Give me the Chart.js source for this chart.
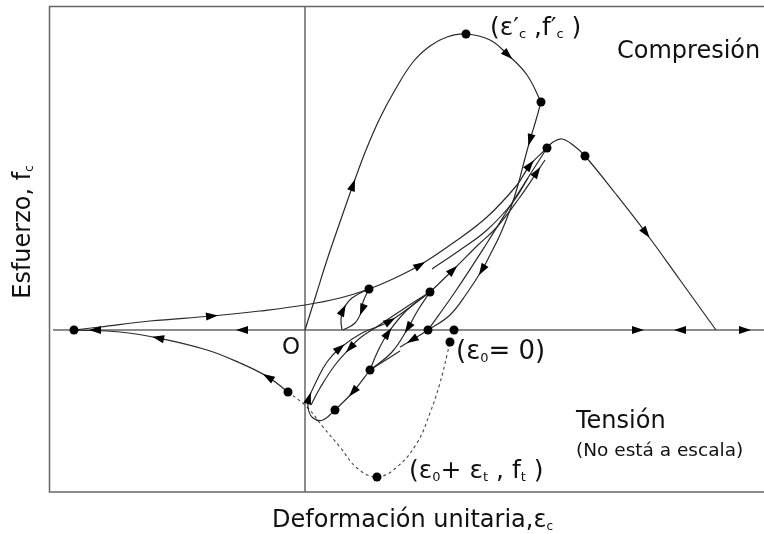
<!DOCTYPE html>
<html>
<head>
<meta charset="utf-8">
<script src="https://cdn.jsdelivr.net/npm/chart.js@4.4.1/dist/chart.umd.min.js"></script>
<style>
  html, body { margin: 0; padding: 0; background: #fff; }
  #chart { display: block; }
</style>
</head>
<body>
<canvas id="chart" width="764" height="534"></canvas>
<script>
// Curvas del modelo de concreto (unidades arbitrarias, no está a escala)
const envolvente = [[0,0],[11,35],[22,70],[35,108],[48,145],[61,180],[75,212],[90,240],[108,268],[125,284],[142,293],[161,296],[185,290],[203,275],[222,255],[236,228]];
const descarga = [[236,228],[231,210],[225,190],[219,168],[213,145],[205,120],[195,95],[185,75],[177,60],[162,37],[145,15],[123,0],[107,-10],[95,-17]];
const recarga = [[-231,0],[-205,3],[-155,9],[-93,14],[-45,19],[0,25],[35,32],[64,41],[90,52],[115,65],[148,87],[182,113],[212,145],[225,165],[242,182]];
const ablandamiento = [[242,182],[248,188],[257,191],[268,185],[280,174],[310,137],[341,97],[375,50],[411,0]];
const ramaTension = [[-17,-62],[-37,-47],[-65,-33],[-98,-20],[-147,-8],[-185,-2],[-231,0]];
const envTension = [[-17,-62],[2,-77],[18,-97],[35,-117],[52,-138],[72,-147],[92,-137],[112,-113],[125,-83],[135,-53],[142,-25],[145,-12]];
const lazoFSube = [[37,0],[36,10],[38,20],[47,32],[64,41]];
const lazoFBaja = [[64,41],[58,28],[57,20],[50,7],[38,0]];
const lazoKSube = [[65,-40],[72,-23],[83,-3],[102,20],[125,38]];
const lazoKBaja = [[125,38],[113,20],[103,2],[87,-22],[65,-40]];
const tramoKL = [[65,-40],[48,-62],[30,-80]];
const tramoK = [[65,-40],[95,-21]];
const lazoInfSube = [[30,-80],[18,-90],[8,-88],[3,-78],[4,-68],[12,-50],[22,-32],[35,-18],[57,-3],[85,9],[125,38]];
const lazoInfBaja = [[125,38],[100,22],[73,4],[55,-8],[45,-18],[30,-35],[15,-58],[6,-75]];
const recargaG = [[125,38],[148,60],[173,85],[192,103],[215,133],[232,158],[240,170]];
const tramoSup = [[127,61],[155,80],[182,100],[208,128],[223,152]];
const descargaC = [[123,0],[150,38],[182,87],[212,135],[242,182]];
const ejeHorizontal = [[-252,0],[-210,0],[-63,0],[0,0],[333,0],[375,0],[440,0],[459,0]];
const ejeVertical = [[0,-162],[0,324]];
const puntos = [[161,296],[236,228],[242,182],[280,174],[-231,0],[64,41],[125,38],[123,0],[149,0],[145,-12],[65,-40],[30,-80],[-17,-62],[72,-147]];

// Flechas: [curva, índice del punto, sentido]
const flechas = [
    ['envolvente',4,1],['envolvente',13,1],
    ['descarga',2,1],['descarga',8,1],['descarga',12,1],
    ['recarga',3,1],['recarga',9,1],['recarga',13,1],
    ['ablandamiento',6,1],
    ['ramaTension',1,1],['ramaTension',4,1],
    ['lazoFSube',2,1],['lazoFBaja',2,1],
    ['lazoKSube',2,1],['lazoKBaja',2,1],
    ['tramoKL',1,1],
    ['lazoInfSube',4,1],['lazoInfSube',7,1],['lazoInfSube',9,1],
    ['lazoInfBaja',4,1],
    ['recargaG',1,1],['recargaG',5,1],
    ['ejeHorizontal',1,-1],['ejeHorizontal',2,-1],['ejeHorizontal',4,1],['ejeHorizontal',5,-1],['ejeHorizontal',6,1]
];

const FUENTE = '"DejaVu Sans", Verdana, sans-serif';

// Textos: segmentos [texto, subíndice?]
const notas = [
    { x: 185, y: 295, size: 25, segs: [['(ε′'],['c',1],[' ,f′'],['c',1],[' )']] },
    { x: 312, y: 272, size: 24, segs: [['Compresión']] },
    { x: -23, y: -24, size: 23, segs: [['O']] },
    { x: 151, y: -29, size: 26, segs: [['(ε'],['0',1],['= 0)']] },
    { x: 271, y: -98, size: 24, segs: [['Tensión']] },
    { x: 271, y: -126, size: 18.5, segs: [['(No está a escala)']] },
    { x: 104, y: -148, size: 25, segs: [['(ε'],['0',1],['+ ε'],['t',1],[' , f'],['t',1],[' )']] }
];

function anchoTexto(ctx, segs, size) {
    let w = 0;
    segs.forEach(s => {
        ctx.font = (s[1] ? Math.round(size * 0.5) : size) + 'px ' + FUENTE;
        w += ctx.measureText(s[0]).width;
    });
    return w;
}

function dibujaTexto(ctx, x, y, segs, size) {
    let cx = x;
    segs.forEach(s => {
        const sub = !!s[1];
        ctx.font = (sub ? Math.round(size * 0.5) : size) + 'px ' + FUENTE;
        ctx.fillText(s[0], cx, sub ? y + size * 0.12 : y);
        cx += ctx.measureText(s[0]).width;
    });
}

const curvas = {envolvente, descarga, recarga, ablandamiento, ramaTension, lazoFSube, lazoFBaja,
    lazoKSube, lazoKBaja, tramoKL, tramoK, lazoInfSube, lazoInfBaja, recargaG, tramoSup, descargaC};

const datasets = [];
datasets.push({
    label: 'puntos', data: puntos.map(p => ({x: p[0], y: p[1]})),
    showLine: false, pointRadius: 4.5, pointBackgroundColor: '#000', pointBorderWidth: 0, order: 0
});
Object.keys(curvas).forEach(k => {
    datasets.push({
        label: k, data: curvas[k].map(p => ({x: p[0], y: p[1]})),
        showLine: true, borderColor: '#2a2a2a', borderWidth: 1.2, pointRadius: 0, tension: 0.4, order: 1
    });
});
datasets.push({
    label: 'envTension', data: envTension.map(p => ({x: p[0], y: p[1]})),
    showLine: true, borderColor: '#444', borderWidth: 1.1, borderDash: [3, 3], pointRadius: 0, tension: 0.4, order: 1
});
datasets.push({
    label: 'ejeHorizontal', data: ejeHorizontal.map(p => ({x: p[0], y: p[1]})),
    showLine: true, borderColor: '#666', borderWidth: 1.5, pointRadius: 0, tension: 0, order: 2
});
datasets.push({
    label: 'ejeVertical', data: ejeVertical.map(p => ({x: p[0], y: p[1]})),
    showLine: true, borderColor: '#666', borderWidth: 1.5, pointRadius: 0, tension: 0, order: 2
});

const decoraciones = {
    id: 'decoraciones',
    afterDatasetsDraw(chart) {
        const ctx = chart.ctx;
        const a = chart.chartArea;
        const sx = chart.scales.x, sy = chart.scales.y;
        ctx.save();

        // marco (abierto a la derecha)
        ctx.strokeStyle = '#666';
        ctx.lineWidth = 1.5;
        ctx.beginPath();
        ctx.moveTo(a.right, a.top + 0.5);
        ctx.lineTo(a.left + 0.5, a.top + 0.5);
        ctx.lineTo(a.left + 0.5, a.bottom);
        ctx.lineTo(a.right, a.bottom);
        ctx.stroke();

        // flechas sobre las curvas
        ctx.fillStyle = '#000';
        flechas.forEach(([nombre, i, dir]) => {
            const idx = chart.data.datasets.findIndex(d => d.label === nombre);
            const pts = chart.getDatasetMeta(idx).data;
            const p = pts[i], prev = pts[i - 1] || p, next = pts[i + 1] || p;
            let ang = Math.atan2(next.y - prev.y, next.x - prev.x);
            if (dir < 0) ang += Math.PI;
            ctx.save();
            ctx.translate(p.x, p.y);
            ctx.rotate(ang);
            ctx.beginPath();
            ctx.moveTo(6, 0);
            ctx.lineTo(-6, -4);
            ctx.lineTo(-6, 4);
            ctx.closePath();
            ctx.fill();
            ctx.restore();
        });

        // anotaciones
        ctx.fillStyle = '#111';
        ctx.textBaseline = 'alphabetic';
        ctx.textAlign = 'left';
        notas.forEach(n => {
            dibujaTexto(ctx, sx.getPixelForValue(n.x), sy.getPixelForValue(n.y), n.segs, n.size);
        });

        // títulos de los ejes
        const segX = [['Deformación unitaria,'], ['ε'], ['c', 1]];
        const wx = anchoTexto(ctx, segX, 24);
        dibujaTexto(ctx, (a.left + a.right) / 2 - wx / 2 + 6, 527, segX, 24);

        const segY = [['Esfuerzo, f'], ['c', 1]];
        const wy = anchoTexto(ctx, segY, 24);
        ctx.translate(30, 232);
        ctx.rotate(-Math.PI / 2);
        dibujaTexto(ctx, -wy / 2, 0, segY, 24);
        ctx.restore();
    }
};

new Chart(document.getElementById('chart'), {
    type: 'scatter',
    data: { datasets },
    options: {
        responsive: false,
        devicePixelRatio: 1,
        animation: false,
        layout: { autoPadding: false, padding: { left: 49, top: 6, right: 0, bottom: 42 } },
        plugins: { legend: { display: false }, tooltip: { enabled: false } },
        scales: {
            x: { type: 'linear', min: -256, max: 459, display: false },
            y: { type: 'linear', min: -162, max: 324, display: false }
        }
    },
    plugins: [decoraciones]
});
</script>
</body>
</html>
